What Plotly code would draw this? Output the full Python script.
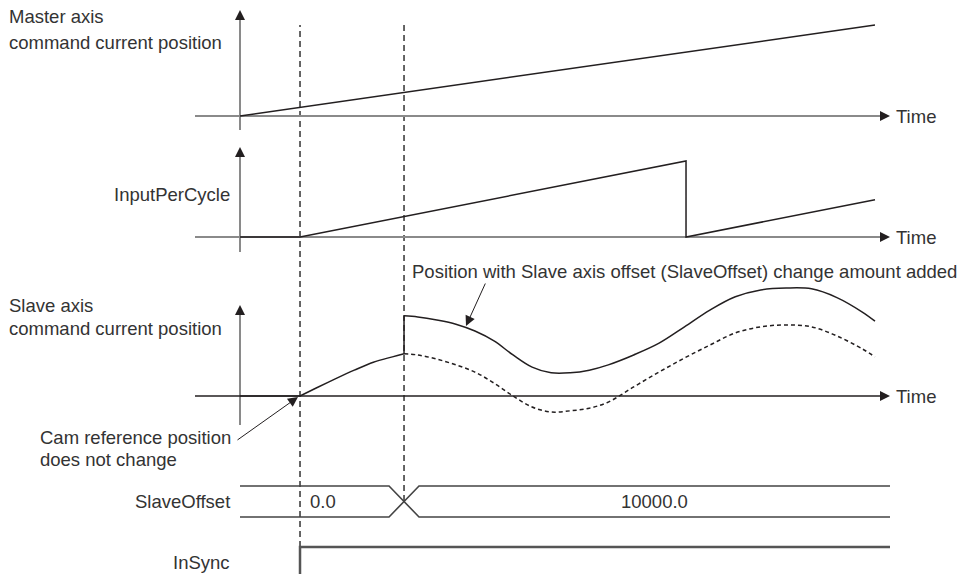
import plotly.graph_objects as go

W, H = 961, 574

# ---------------- data (time units; 100 = end of plotted master ramp) ----------------
T_SYNC = 9.45      # cam reference / InSync rises
T_OFF = 25.83      # SlaveOffset changes 0.0 -> 10000.0
T_RESET = 70.24    # InputPerCycle resets
T_END = 100.0

master_t = [0, T_END]
master_pos = [0, 100]

ipc_t = [0, T_SYNC, T_RESET, T_RESET, T_END]
ipc_val = [0, 0, 100, 0, 49]

slave_pre_t = [0, T_SYNC, 12, 15, 18, 21, 24, T_OFF]
slave_pre = [0, 0, 2100, 4500, 6800, 8900, 10300, 11100]

slave_post_t = [T_OFF, 28, 31, 34, 37, 40, 43, 46, 49, 52, 55, 58, 62, 66, 70,
                74, 78, 82, 86, 90, 94, 98, 100]
slave_with_offset = [21100, 20800, 20000, 18900, 17100, 14500, 10800, 7600, 6100, 6100,
                     6800, 8200, 10800, 13900, 18200, 22600, 26100, 27900, 28400, 28200,
                     25900, 22100, 19700]
slave_cam = [11100, 10800, 9700, 8200, 6300, 3400, 0, -2900, -4200, -3900, -3200, -1600,
             2400, 6300, 10000, 13400, 16600, 18200, 18700, 18200, 15800, 12400, 10300]

offset_labels = ["0.0", "10000.0"]
insync_t = [T_SYNC, T_SYNC]
insync_val = [0, 1]

# ---------------- layout constants ----------------
X0_PX, PX_PER_T = 240, 6.35
def tx(px):
    return (px - X0_PX) / PX_PER_T
def pxf(px):
    return px / W
def pyf(py):
    return 1 - py / H

SIG_END = tx(890)          # right end of bus / InSync lines
AX_LEFT = tx(195)
AX_TIP = tx(890)
TRANS = 15 / PX_PER_T      # half width of bus transition

# panel: (baseline pixel, pixels per unit)
PAN = {
    "y":  (116, 0.91),
    "y2": (237, 0.76),
    "y3": (396, 0.0038),
    "y4": (501.5, 15.5),
    "y5": (580, 33.0),
}
def val(py, ax):
    b, k = PAN[ax]
    return (b - py) / k

INK = "#231f20"
GREY = "#8a8a8a"
TXT = "#333333"
FONT = "Liberation Sans, Arial, sans-serif"
FS = 18.5

fig = go.Figure()

def line(x, y, ax, color=INK, width=1.5, dash=None, shape="linear"):
    fig.add_trace(go.Scatter(x=x, y=y, yaxis=ax, mode="lines", hoverinfo="skip",
                             line=dict(color=color, width=width, dash=dash, shape=shape),
                             showlegend=False))

# axes (vertical + horizontal) for the three graph panels
vaxes = {"y": (130, 10), "y2": (252, 147), "y3": (425, 305)}
for ax, (bot, tip) in vaxes.items():
    line([0, 0], [val(bot, ax), val(tip + 8, ax)], ax, color=GREY, width=2)
    hcol = INK if ax == "y3" else GREY
    line([AX_LEFT, tx(882)], [0, 0], ax, color=hcol, width=2 if ax != "y3" else 1.6)

# master axis
line(master_t, master_pos, "y")
# InputPerCycle
line(ipc_t, ipc_val, "y2")
# slave axis
line(slave_pre_t[:2], slave_pre[:2], "y3")
line(slave_pre_t[1:], slave_pre[1:], "y3", shape="spline")
line([T_OFF, T_OFF], [slave_pre[-1], slave_with_offset[0]], "y3")
line(slave_post_t, slave_with_offset, "y3", shape="spline")
line(slave_post_t, slave_cam, "y3", dash="4px,3px", shape="spline")

# SlaveOffset bus
line([0, T_OFF - TRANS, T_OFF + TRANS, SIG_END], [1, 1, -1, -1], "y4", color="#444444", width=1.6)
line([0, T_OFF - TRANS, T_OFF + TRANS, SIG_END], [-1, -1, 1, 1], "y4", color="#444444", width=1.6)
# InSync
line(insync_t + [SIG_END], insync_val + [1], "y5", color="#555555", width=2.5)

ann = []
# arrowheads of the axes
for ax, (bot, tip) in vaxes.items():
    ann.append(dict(x=0, y=val(tip, ax), xref="x", yref=ax, ax=0, ay=10, text="",
                    showarrow=True, arrowhead=2, arrowwidth=2, arrowsize=1,
                    arrowcolor=INK, standoff=0))
    ann.append(dict(x=AX_TIP, y=0, xref="x", yref=ax, ax=-10, ay=0, text="",
                    showarrow=True, arrowhead=2, arrowwidth=2, arrowsize=1,
                    arrowcolor=INK, standoff=0))

def text(s, px, py, anchor="left"):
    ann.append(dict(x=pxf(px), y=pyf(py), xref="paper", yref="paper", text=s,
                    showarrow=False, xanchor=anchor, yanchor="middle",
                    font=dict(family=FONT, size=FS, color=TXT)))

text("Master axis", 7, 17)
text("command current position", 7, 43)
text("InputPerCycle", 232, 194, "right")
text("Slave axis", 7, 305)
text("command current position", 7, 328)
text("Cam reference position", 38, 437)
text("does not change", 38, 459)
text("Position with Slave axis offset (SlaveOffset) change amount added", 410, 271)
for py in (116, 237, 396):
    text("Time", 894, py)
text("SlaveOffset", 232, 501, "right")
text("InSync", 232, 562, "right")
text(offset_labels[0], 308, 501)
text(offset_labels[1], 654, 501, "center")

# callout arrows
ann.append(dict(x=pxf(298), y=pyf(397), xref="paper", yref="paper", ax=-62, ay=44,
                text="", showarrow=True, arrowhead=2, arrowwidth=1, arrowsize=2,
                arrowcolor=INK, standoff=0))
ann.append(dict(x=pxf(466), y=pyf(326), xref="paper", yref="paper", ax=20, ay=-44,
                text="", showarrow=True, arrowhead=2, arrowwidth=1, arrowsize=2,
                arrowcolor=INK, standoff=0))

shapes = [
    dict(type="line", xref="x", yref="paper", x0=T_SYNC, x1=T_SYNC, y0=pyf(547), y1=pyf(25),
         line=dict(color="#000000", width=1.2, dash="6px,4px"), layer="below"),
    dict(type="line", xref="x", yref="paper", x0=T_OFF, x1=T_OFF, y0=pyf(501), y1=pyf(25),
         line=dict(color="#000000", width=1.2, dash="6px,4px"), layer="below"),
]

layout = dict(
    width=W, height=H, margin=dict(l=0, r=0, t=0, b=0),
    paper_bgcolor="white", plot_bgcolor="white", showlegend=False,
    xaxis=dict(range=[tx(0), tx(W)], visible=False, fixedrange=True),
    annotations=ann, shapes=shapes,
)
for ax, (b, k) in PAN.items():
    key = "yaxis" if ax == "y" else "yaxis" + ax[1:]
    d = dict(range=[(b - H) / k, b / k], visible=False, fixedrange=True, domain=[0, 1])
    if ax != "y":
        d["overlaying"] = "y"
    layout[key] = d
fig.update_layout(**layout)

fig.write_html("out.html", config={"displayModeBar": False},
               post_script="document.body.style.margin='0';document.body.style.overflow='hidden';")
